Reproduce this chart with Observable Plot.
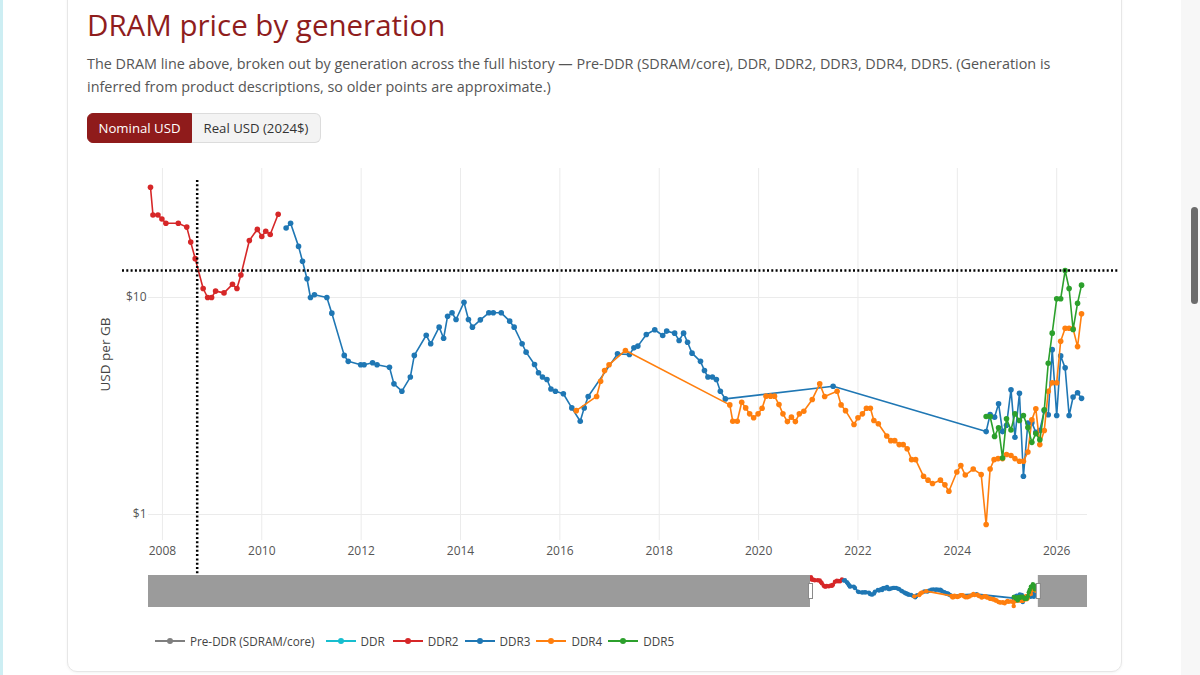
<!DOCTYPE html>
<html>
<head>
<meta charset="utf-8">
<script src="https://cdn.jsdelivr.net/npm/d3@7"></script>
<script src="https://cdn.jsdelivr.net/npm/@observablehq/plot@0.6"></script>
<style>
  html, body { margin: 0; padding: 0; background: #fff; width: 1200px; height: 675px; overflow: hidden; font-family: "Open Sans", sans-serif; }
  #strip { position: absolute; left: 0; top: 0; width: 3px; height: 675px; background: #cdeef3; }
  #track { position: absolute; left: 1181px; top: 0; width: 19px; height: 675px; background: #f7f7f7; }
  #thumb { position: absolute; left: 1191px; top: 207px; width: 7px; height: 97px; background: #6c6c6c; border-radius: 4px; }
  #card { position: absolute; left: 67px; top: -30px; width: 1053px; height: 700px; border: 1px solid #e7e7e7; border-radius: 10px; box-shadow: 0 1px 3px rgba(0,0,0,0.05); background: #fff; }
  #title { position: absolute; left: 87px; top: 10px; margin: 0; font-size: 29.5px; line-height: 30px; font-weight: 400; color: #8f1d1d; white-space: nowrap; }
  #subtitle { position: absolute; left: 87px; top: 53px; width: 1014px; margin: 0; font-size: 14.4px; line-height: 22.5px; color: #555; }
  #buttons { position: absolute; left: 87px; top: 113px; display: flex; height: 30px; }
  .btn { box-sizing: border-box; height: 30px; line-height: 28px; font-size: 13.2px; border: 1px solid #dcdcdc; white-space: nowrap; text-align: center; padding: 0; }
  .btn.on { background: #8f1b1b; color: #fff; border-color: #8f1b1b; border-radius: 6px 0 0 6px; width: 105px; }
  .btn.off { background: #f3f3f3; color: #333; border-left: none; border-radius: 0 6px 6px 0; width: 129px; }
  #main { position: absolute; left: 0; top: 150px; }
  #slider { position: absolute; left: 0; top: 575px; }
  #legend { position: absolute; left: 150px; top: 632px; display: flex; align-items: center; height: 18px; font-size: 11.7px; color: #444; }
  .item { display: flex; align-items: center; margin-right: 1px; }
  .item:nth-child(1) { margin-right: 6px; }
  .item:nth-child(2) { margin-right: 3px; }
  .item svg { width: 40px; height: 18px; }
  svg { overflow: visible; }
</style>
</head>
<body>
<div id="strip"></div>
<div id="track"></div>
<div id="thumb"></div>
<div id="card"></div>
<h1 id="title">DRAM price by generation</h1>
<p id="subtitle">The DRAM line above, broken out by generation across the full history — Pre-DDR (SDRAM/core), DDR, DDR2, DDR3, DDR4, DDR5. (Generation is inferred from product descriptions, so older points are approximate.)</p>
<div id="buttons"><div class="btn on">Nominal USD</div><div class="btn off">Real USD (2024$)</div></div>
<div id="main"></div>
<div id="slider"></div>
<div id="legend"></div>
<script>
// ---- data (decimal year, USD per GB) ----
const generations = ["Pre-DDR (SDRAM/core)", "DDR", "DDR2", "DDR3", "DDR4", "DDR5"];
const genColors = ["#7f7f7f", "#17becf", "#d62728", "#1f77b4", "#ff7f0e", "#2ca02c"];

const preDDR = [];
const ddr1 = [];
const ddr2 = [
  [2007.76, 32.2], [2007.81, 24.0], [2007.91, 24.0], [2007.99, 23.0], [2008.07, 22.0],
  [2008.32, 22.0], [2008.49, 21.1], [2008.57, 18.0], [2008.66, 15.1], [2008.82, 11.0],
  [2008.91, 10.0], [2008.99, 10.0], [2009.07, 10.7], [2009.24, 10.5], [2009.41, 11.5],
  [2009.50, 11.0], [2009.58, 12.7], [2009.75, 18.3], [2009.91, 20.6], [2010.00, 19.1],
  [2010.08, 20.2], [2010.17, 19.5], [2010.33, 24.2]
];
const ddr3 = [
  [2010.49, 20.9], [2010.58, 22.0], [2010.74, 17.2], [2010.82, 14.7], [2010.91, 12.2],
  [2010.98, 10.0], [2011.06, 10.3], [2011.31, 10.0], [2011.41, 8.47], [2011.66, 5.41],
  [2011.74, 5.08], [2011.99, 4.90], [2012.06, 4.90], [2012.23, 5.00], [2012.32, 4.90],
  [2012.57, 4.77], [2012.66, 4.00], [2012.82, 3.70], [2012.99, 4.30], [2013.07, 5.41],
  [2013.31, 6.70], [2013.40, 6.12], [2013.57, 7.30], [2013.66, 6.49], [2013.74, 8.20],
  [2013.83, 8.50], [2013.91, 7.92], [2014.07, 9.50], [2014.16, 7.92], [2014.24, 7.30],
  [2014.40, 7.89], [2014.57, 8.50], [2014.66, 8.50], [2014.82, 8.50], [2014.99, 7.78],
  [2015.08, 7.30], [2015.24, 6.12], [2015.32, 5.60], [2015.49, 4.91], [2015.57, 4.50],
  [2015.65, 4.30], [2015.74, 4.19], [2015.82, 3.79], [2015.91, 3.70], [2016.07, 3.60],
  [2016.24, 3.10], [2016.41, 2.69], [2016.49, 3.10], [2016.57, 3.50], [2017.16, 5.50],
  [2017.40, 5.46], [2017.49, 5.86], [2017.57, 5.97], [2017.74, 6.75], [2017.91, 7.10],
  [2018.07, 6.68], [2018.15, 7.00], [2018.31, 6.85], [2018.40, 6.34], [2018.49, 6.85],
  [2018.57, 6.22], [2018.66, 5.54], [2018.83, 5.08], [2018.91, 4.61], [2018.98, 4.30],
  [2019.07, 4.30], [2019.15, 4.19], [2019.23, 3.70], [2019.33, 3.41], [2021.50, 3.90],
  [2024.58, 2.41], [2024.66, 2.89], [2024.75, 2.81], [2024.83, 3.24], [2024.91, 2.41],
  [2024.99, 2.58], [2025.08, 3.76], [2025.16, 2.27], [2025.25, 3.62], [2025.33, 1.50],
  [2025.42, 2.64], [2025.50, 2.65], [2025.58, 2.39], [2025.66, 2.44], [2025.75, 3.01],
  [2025.83, 2.88], [2025.91, 5.75], [2026.00, 2.86], [2026.08, 5.38], [2026.17, 4.74],
  [2026.25, 2.86], [2026.33, 3.48], [2026.42, 3.64], [2026.50, 3.43]
];
const ddr4 = [
  [2016.33, 3.01], [2016.74, 3.50], [2016.82, 4.11], [2016.90, 4.61], [2016.99, 4.90],
  [2017.32, 5.70], [2019.42, 3.20], [2019.48, 2.69], [2019.57, 2.69], [2019.66, 3.29],
  [2019.74, 3.10], [2019.82, 2.91], [2019.90, 2.79], [2019.99, 2.91], [2020.07, 3.09],
  [2020.15, 3.51], [2020.24, 3.51], [2020.32, 3.51], [2020.41, 3.21], [2020.49, 2.91],
  [2020.58, 2.68], [2020.66, 2.81], [2020.74, 2.68], [2020.82, 2.91], [2020.91, 2.99],
  [2021.08, 3.39], [2021.23, 4.00], [2021.33, 3.50], [2021.58, 3.70], [2021.66, 3.20],
  [2021.75, 3.01], [2021.92, 2.60], [2022.00, 2.79], [2022.09, 2.91], [2022.17, 3.09],
  [2022.25, 3.09], [2022.32, 2.71], [2022.41, 2.62], [2022.58, 2.30], [2022.66, 2.19],
  [2022.74, 2.19], [2022.83, 2.10], [2022.91, 2.10], [2022.99, 2.01], [2023.08, 1.79],
  [2023.16, 1.79], [2023.32, 1.50], [2023.41, 1.44], [2023.50, 1.39], [2023.66, 1.44],
  [2023.75, 1.37], [2023.83, 1.28], [2023.99, 1.57], [2024.07, 1.68], [2024.16, 1.52],
  [2024.32, 1.62], [2024.48, 1.53], [2024.58, 0.90], [2024.66, 1.62], [2024.74, 1.79],
  [2024.82, 1.81], [2024.91, 1.81], [2024.99, 1.89], [2025.08, 1.87], [2025.16, 1.81],
  [2025.25, 1.76], [2025.33, 1.76], [2025.42, 1.94], [2025.50, 2.73], [2025.58, 3.07],
  [2025.66, 2.10], [2025.75, 2.44], [2025.83, 3.70], [2025.91, 4.05], [2026.00, 4.05],
  [2026.08, 6.29], [2026.17, 7.22], [2026.25, 7.22], [2026.33, 7.17], [2026.42, 5.94],
  [2026.50, 8.41]
];
const ddr5 = [
  [2024.58, 2.83], [2024.66, 2.83], [2024.75, 2.29], [2024.83, 2.51], [2024.91, 1.82],
  [2024.99, 2.76], [2025.08, 2.45], [2025.16, 2.91], [2025.25, 2.71], [2025.33, 2.86],
  [2025.42, 2.52], [2025.50, 2.15], [2025.58, 2.36], [2025.66, 2.21], [2025.75, 3.04],
  [2025.83, 4.98], [2025.91, 6.85], [2026.00, 9.86], [2026.08, 9.86], [2026.17, 13.3],
  [2026.25, 11.0], [2026.33, 7.12], [2026.42, 9.41], [2026.50, 11.4]
];
const seriesData = [preDDR, ddr1, ddr2, ddr3, ddr4, ddr5];

const xTicks = [2008, 2010, 2012, 2014, 2016, 2018, 2020, 2022, 2024, 2026];
const yTicks = [1, 10];
const xDomain = [2007.72, 2026.62];
const yDomain = [0.759, 39.3];
const sliderDomain = [1952.8, 2030.7];
const spikeYear = [2008.70];
const spikePrice = [13.3];

// ---- marks ----
const X = d => d[0], Y = d => d[1];
const traceMarks = (lw, r) => seriesData.flatMap((data, i) => data.length ? [
  Plot.line(data, {x: X, y: Y, stroke: genColors[i], strokeWidth: lw}),
  Plot.dot(data, {x: X, y: Y, fill: genColors[i], r})
] : []);

const main = Plot.plot({
  width: 1200, height: 425,
  marginLeft: 148, marginRight: 113, marginTop: 18, marginBottom: 35,
  x: {domain: xDomain},
  y: {type: "log", domain: yDomain},
  style: {fontFamily: "Open Sans", fontSize: "12px", color: "#555", background: "transparent", overflow: "visible"},
  marks: [
    Plot.gridX(xTicks, {stroke: "#ebebeb", strokeOpacity: 1, strokeWidth: 1}),
    Plot.gridY(yTicks, {stroke: "#ebebeb", strokeOpacity: 1, strokeWidth: 1}),
    Plot.axisX(xTicks, {tickSize: 0, tickPadding: 6, tickFormat: d => String(d), label: null, fill: "#555"}),
    Plot.axisY(yTicks, {tickSize: 0, tickPadding: 2, tickFormat: d => "$" + d, label: null, fill: "#555"}),
    Plot.axisY([], {tickSize: 0, label: "USD per GB", labelAnchor: "center", labelArrow: "none", labelOffset: 48, fill: "#444", fontSize: 13.5}),
    ...traceMarks(1.6, 2.8),
    Plot.ruleX(spikeYear, {stroke: "#000", strokeWidth: 2.5, strokeDasharray: "2,2.3", insetTop: 12, insetBottom: -35}),
    Plot.ruleY(spikePrice, {stroke: "#000", strokeWidth: 2.5, strokeDasharray: "2,2.3", insetLeft: -26, insetRight: -31})
  ]
});
document.getElementById("main").appendChild(main);

const slider = Plot.plot({
  width: 1200, height: 32,
  marginLeft: 148, marginRight: 113, marginTop: 0, marginBottom: 0,
  x: {domain: sliderDomain, axis: null},
  y: {type: "log", domain: yDomain, axis: null},
  style: {background: "transparent", overflow: "visible"},
  marks: [
    ...traceMarks(1.8, 2.2),
    Plot.rect([[sliderDomain[0], xDomain[0]], [xDomain[1], sliderDomain[1]]], {x1: d => d[0], x2: d => d[1], fill: "#9b9b9b"}),
    Plot.ruleX(xDomain, {stroke: "#8a8a8a", strokeWidth: 5, insetTop: 8, insetBottom: 8}),
    Plot.ruleX(xDomain, {stroke: "#fff", strokeWidth: 3, insetTop: 9, insetBottom: 9})
  ]
});
document.getElementById("slider").appendChild(slider);

// ---- legend ----
const legend = document.getElementById("legend");
generations.forEach((g, i) => {
  const item = document.createElement("div");
  item.className = "item";
  item.innerHTML = `<svg viewBox="0 0 40 18"><line x1="5" x2="35" y1="9" y2="9" stroke="${genColors[i]}" stroke-width="2"/><circle cx="20" cy="9" r="3" fill="${genColors[i]}"/></svg><span>${g}</span>`;
  legend.appendChild(item);
});
</script>
</body>
</html>
